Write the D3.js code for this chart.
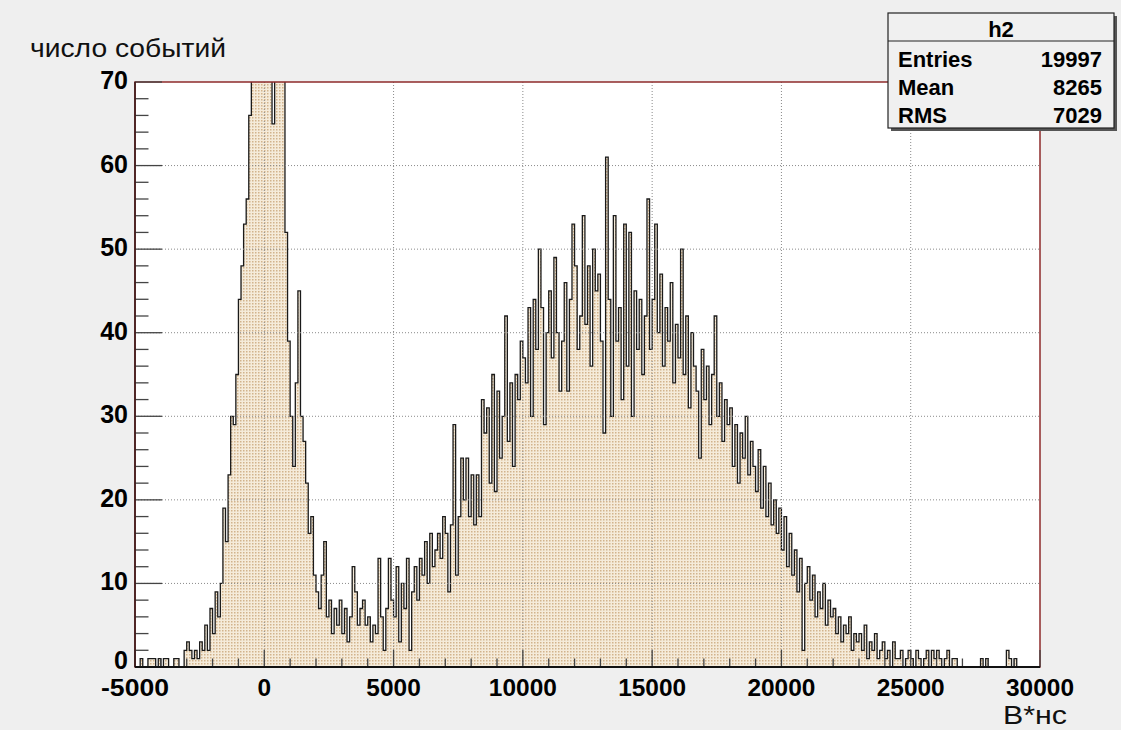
<!DOCTYPE html>
<html>
<head>
<meta charset="utf-8">
<script src="https://cdn.jsdelivr.net/npm/d3@7"></script>
<style>
  html, body { margin: 0; padding: 0; background: #efefef; }
  svg { display: block; }
</style>
</head>
<body>
<svg id="chart" width="1121" height="730"></svg>
<script>
// Histogram h2: charge spectrum, bins of 100 from -5000 to 30000
const binStart = -5000;
const binWidth = 100;
const counts = [
  0,0,1,0,0,1,1,1,0,1,
  0,1,1,0,0,1,1,0,0,2,
  3,2,1,2,1,3,2,5,2,7,
  4,9,6,10,19,15,23,30,29,35,
  44,48,53,56,66,75,88,110,128,140,
  145,138,125,65,112,95,80,76,52,39,
  30,24,34,45,30,27,22,16,18,11,
  9,7,11,15,6,8,4,7,5,8,
  4,7,3,6,12,9,5,7,8,5,
  6,3,5,4,13,6,2,7,13,8,
  6,12,3,10,7,13,2,9,12,8,
  13,11,15,10,16,12,14,16,13,18,
  16,9,17,29,11,18,25,20,25,18,
  23,17,23,18,32,28,31,22,35,21,
  33,25,30,42,27,34,24,35,32,39,
  37,34,43,30,44,38,50,43,29,40,
  45,37,49,40,33,39,46,33,44,53,
  48,38,42,54,41,48,36,50,45,47,
  39,28,61,44,30,54,39,43,32,53,
  36,52,30,45,38,44,35,42,56,38,
  44,53,40,47,36,43,39,46,34,41,
  37,50,35,42,31,40,36,33,25,38,
  32,36,29,35,42,30,34,27,32,29,
  31,24,29,22,28,25,30,23,27,24,
  21,26,19,24,18,22,17,20,16,19,
  14,18,12,16,11,14,9,13,2,10,
  12,8,11,6,9,7,10,5,8,6,
  7,4,6,3,5,4,6,2,4,3,
  4,2,5,1,3,2,4,1,2,3,
  1,2,0,3,1,1,2,0,1,2,
  1,0,2,1,0,1,2,0,2,1,
  2,1,0,1,2,0,1,1,0,0,
  0,0,0,0,0,0,0,1,0,1,
  0,0,0,0,0,0,0,2,1,0,
  1,0,0,0,0,0,0,0,0,0
];

const xTicks = [-5000, 0, 5000, 10000, 15000, 20000, 25000, 30000];
const yTicks = [0, 10, 20, 30, 40, 50, 60, 70];
const statsTitle = "h2";
const statsRows = [["Entries", "19997"], ["Mean", "8265"], ["RMS", "7029"]];
const yTitle = "число событий";
const xTitle = "В*нс";

const svg = d3.select("#chart");
const L = 135, R = 1040, T = 82, B = 667;

const x = d3.scaleLinear().domain([-5000, 30000]).range([L, R]);
const y = d3.scaleLinear().domain([0, 70]).range([B, T]);

// canvas background
svg.append("rect").attr("width", 1121).attr("height", 730).attr("fill", "#efefef");

const defs = svg.append("defs");
const pat = defs.append("pattern")
  .attr("id", "hatch").attr("patternUnits", "userSpaceOnUse")
  .attr("width", 3).attr("height", 3);
pat.append("rect").attr("width", 3).attr("height", 3).attr("fill", "#f5ebda");
pat.append("rect").attr("x", 0).attr("y", 0).attr("width", 1.5).attr("height", 1.5).attr("fill", "#d2b38c");

defs.append("clipPath").attr("id", "plotClip")
  .append("rect").attr("x", L).attr("y", T).attr("width", R - L).attr("height", B - T);

// plot area
svg.append("rect").attr("x", L).attr("y", T).attr("width", R - L).attr("height", B - T).attr("fill", "#ffffff");

// histogram points (bin low edges, plus closing edge)
const pts = counts.map((c, i) => [binStart + i * binWidth, c]);
pts.push([binStart + counts.length * binWidth, counts[counts.length - 1]]);

const area = d3.area().curve(d3.curveStepAfter)
  .x(d => x(d[0])).y0(y(0)).y1(d => y(d[1]));
const line = d3.line().curve(d3.curveStepAfter)
  .x(d => x(d[0])).y(d => y(d[1]));

const plot = svg.append("g").attr("clip-path", "url(#plotClip)");
plot.append("path").datum(pts).attr("d", area).attr("fill", "url(#hatch)");

// grid
const grid = svg.append("g");
xTicks.slice(1, -1).forEach(v => {
  grid.append("line").attr("x1", x(v)).attr("x2", x(v)).attr("y1", T).attr("y2", B)
    .attr("stroke", "#8a8a8a").attr("stroke-width", 1).attr("stroke-dasharray", "1,2");
});
yTicks.slice(1, -1).forEach(v => {
  grid.append("line").attr("x1", L).attr("x2", R).attr("y1", y(v)).attr("y2", y(v))
    .attr("stroke", "#8a8a8a").attr("stroke-width", 1).attr("stroke-dasharray", "1,2");
});

plot.append("path").datum(pts).attr("d", line)
  .attr("fill", "none").attr("stroke", "#1a1a1a").attr("stroke-width", 1.3);

// frame
svg.append("rect").attr("x", L).attr("y", T).attr("width", R - L).attr("height", B - T)
  .attr("fill", "none").attr("stroke", "#8e2b2b").attr("stroke-width", 1.5);

// axes with inward ticks
const tickLenY = 27, tickLenX = 17;
const axes = svg.append("g");
d3.range(0, 71, 2).forEach(v => {
  const major = v % 10 === 0;
  axes.append("line").attr("x1", L).attr("x2", L + (major ? tickLenY : tickLenY / 2))
    .attr("y1", y(v)).attr("y2", y(v)).attr("stroke", "#444").attr("stroke-width", 1.3);
});
d3.range(-5000, 30001, 1000).forEach(v => {
  const major = v % 5000 === 0;
  axes.append("line").attr("x1", x(v)).attr("x2", x(v))
    .attr("y1", B).attr("y2", B - (major ? tickLenX : tickLenX / 2))
    .attr("stroke", "#444").attr("stroke-width", 1.3);
});
axes.append("line").attr("x1", L).attr("x2", L).attr("y1", T).attr("y2", B)
  .attr("stroke", "#3a1a1a").attr("stroke-width", 1.6);
axes.append("line").attr("x1", L).attr("x2", R).attr("y1", B).attr("y2", B)
  .attr("stroke", "#111").attr("stroke-width", 2);

// tick labels
const font = "'Liberation Sans', Arial, sans-serif";
const ylab = svg.append("g").attr("font-family", font)
  .attr("font-weight", "bold").attr("font-size", 25).attr("fill", "#000");
yTicks.forEach(v => {
  ylab.append("text").attr("x", L - 7).attr("y", y(v) + (v === 0 ? 2 : 7))
    .attr("text-anchor", "end").text(v);
});
const xlab = svg.append("g").attr("font-family", font)
  .attr("font-weight", "bold").attr("font-size", 24).attr("fill", "#000");
xTicks.forEach(v => {
  xlab.append("text").attr("x", x(v)).attr("y", 696).attr("text-anchor", "middle")
    .attr("textLength", String(v).length * 13.6 + (v < 0 ? 0 : 0)).attr("lengthAdjust", "spacingAndGlyphs")
    .text(v);
});

// axis titles
svg.append("text").attr("x", 30).attr("y", 57)
  .attr("font-family", font).attr("font-size", 25)
  .attr("textLength", 196).attr("lengthAdjust", "spacingAndGlyphs")
  .attr("fill", "#111").text(yTitle);
svg.append("text").attr("x", 1067).attr("y", 724).attr("text-anchor", "end")
  .attr("font-family", font).attr("font-size", 25)
  .attr("textLength", 64).attr("lengthAdjust", "spacingAndGlyphs")
  .attr("fill", "#111").text(xTitle);

// statistics box
const sb = svg.append("g");
const bx = 888, by = 13, bw = 226, bh = 115;
sb.append("rect").attr("x", bx + 3).attr("y", by + 3).attr("width", bw).attr("height", bh).attr("fill", "#555");
sb.append("rect").attr("x", bx).attr("y", by).attr("width", bw).attr("height", bh)
  .attr("fill", "#f0f0f0").attr("stroke", "#222").attr("stroke-width", 1.2);
sb.append("line").attr("x1", bx).attr("x2", bx + bw).attr("y1", 41).attr("y2", 41)
  .attr("stroke", "#222").attr("stroke-width", 1.2);
const st = sb.append("g").attr("font-family", font)
  .attr("font-weight", "bold").attr("font-size", 22).attr("fill", "#000");
st.append("text").attr("x", bx + bw / 2).attr("y", 37).attr("text-anchor", "middle").text(statsTitle);
statsRows.forEach((r, i) => {
  const yy = 67 + i * 28;
  st.append("text").attr("x", 898).attr("y", yy).text(r[0]);
  st.append("text").attr("x", 1102).attr("y", yy).attr("text-anchor", "end").text(r[1]);
});
</script>
</body>
</html>
